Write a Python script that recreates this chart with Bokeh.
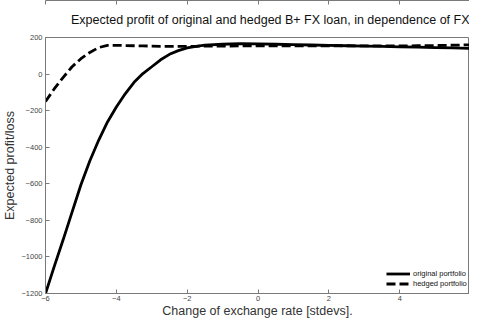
from bokeh.plotting import figure
from bokeh.models import FixedTicker, LinearAxis, Range1d, Legend, LegendItem, Title, CustomJSTickFormatter
from bokeh.embed import file_html
from bokeh.resources import INLINE

# data
fx_change = [-6.0, -5.75, -5.5, -5.25, -5.0, -4.75, -4.5, -4.25, -4.0, -3.75, -3.5, -3.25,
             -3.0, -2.75, -2.5, -2.25, -2.0, -1.75, -1.5, -1.0, -0.5, 0.0, 0.5, 1.0,
             1.5, 2.0, 2.5, 3.0, 3.5, 4.0, 4.5, 5.0, 5.5, 5.97]
original_profit = [-1200, -1050, -905, -755, -605, -475, -362, -262, -180, -108, -45, 3,
                   40, 78, 108, 128, 143, 152, 158, 163, 166, 165, 163, 161,
                   159, 157, 155, 153, 151, 149, 147, 145, 143, 141]
hedged_profit = [-150, -80, -18, 40, 84, 118, 145, 157, 157, 156, 155, 154,
                 153, 152, 152, 152, 152, 152, 153, 153, 154, 155, 155, 155,
                 155, 155, 155, 154, 154, 154, 155, 156, 158, 160]
x_ticks = [-6, -4, -2, 0, 2, 4]
y_ticks = [-1200, -1000, -800, -600, -400, -200, 0, 200]

FONT = "Liberation Sans"
AX = "#7a7a7a"
LBL = "#333333"

p = figure(width=469, height=320, output_backend="svg", toolbar_location=None,
           x_range=Range1d(-6, 5.97), y_range=Range1d(-1200, 200),
           min_border_left=39, min_border_right=0, min_border_top=0, min_border_bottom=0)
p.title = None
p.add_layout(Title(text="Expected profit of original and hedged B+ FX loan, in dependence of FX",
                   align="right", text_font=FONT, text_font_size="12.5px",
                   text_font_style="normal", text_color="#111111", standoff=21), "above")
p.grid.visible = False
p.outline_line_color = AX
p.background_fill_color = "white"
p.border_fill_color = "white"

def style_axis(ax):
    ax.major_tick_in = 4
    ax.major_tick_out = 0
    ax.minor_tick_in = 0
    ax.minor_tick_out = 0
    ax.minor_tick_line_color = None
    ax.axis_line_color = AX
    ax.major_tick_line_color = AX
    ax.major_label_text_font = FONT
    ax.major_label_text_font_size = "7.5px"
    ax.major_label_text_color = "#444444"
    ax.axis_label_text_font = FONT
    ax.axis_label_text_font_size = "12.5px"
    ax.axis_label_text_font_style = "normal"
    ax.axis_label_text_color = LBL

p.xaxis.ticker = FixedTicker(ticks=x_ticks)
p.yaxis.ticker = FixedTicker(ticks=y_ticks)
style_axis(p.xaxis[0])
style_axis(p.yaxis[0])
p.xaxis.axis_label = "Change of exchange rate [stdevs]."
p.yaxis.axis_label = "Expected profit/loss"
p.xaxis.major_label_standoff = 2
p.yaxis.major_label_standoff = 3
p.xaxis.axis_label_standoff = 0
p.yaxis.axis_label_standoff = 1

blank = CustomJSTickFormatter(code="return ''")
top = LinearAxis(ticker=FixedTicker(ticks=x_ticks), formatter=blank)
style_axis(top)
top.major_label_standoff = 0
p.add_layout(top, "above")

r1 = p.line(fx_change, original_profit, line_color="black", line_width=2.8)
r2 = p.line(fx_change, hedged_profit, line_color="black", line_width=2.8, line_dash="9 4")

legend = Legend(items=[LegendItem(label="original portfolio", renderers=[r1]),
                       LegendItem(label="hedged portfolio", renderers=[r2])],
                location=(341, 5), padding=0, margin=0, spacing=1,
                glyph_width=24, glyph_height=9, label_height=9,
                label_text_font=FONT, label_text_font_size="7.5px",
                label_text_color="#111111", label_standoff=3,
                border_line_color=None, background_fill_alpha=0)
p.add_layout(legend, "center")

open("out.html", "w").write(file_html(p, INLINE))
